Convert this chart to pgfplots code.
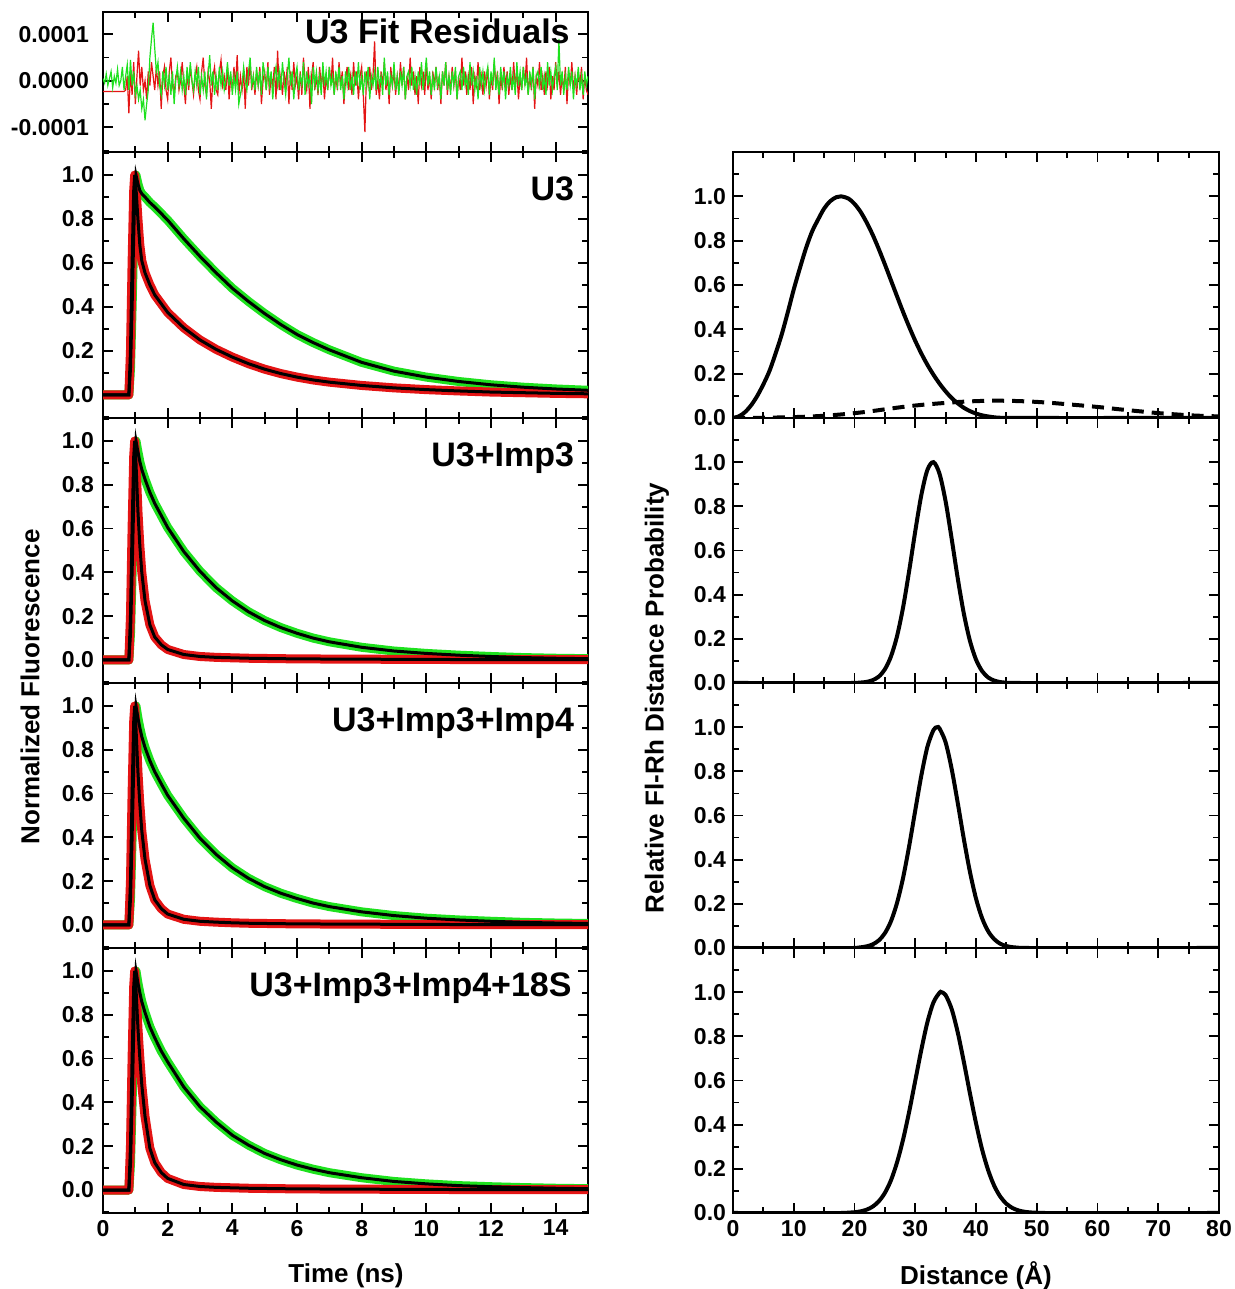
\documentclass[border=0pt]{standalone}
\usepackage{fontspec}
\setmainfont{Liberation Sans}
\usepackage{pgfplots}
\pgfplotsset{compat=1.18}
\usepackage{pgfplotstable}

\definecolor{dgreen}{RGB}{30,225,30}
\definecolor{dred}{RGB}{228,20,20}

% residuals, in units of 1e-5
\pgfplotstableread{
t r g
0.00 -2.3 0.5
0.05 -2.3 -0.5
0.10 -2.3 1.5
0.15 -2.3 -1
0.20 -2.3 0.5
0.25 -2.3 2
0.30 -2.3 -1.5
0.35 -2.3 1
0.40 -2.3 -0.5
0.45 -2.3 2.5
0.50 -2.3 -1
0.55 -2.3 0
0.60 -2.3 3
0.65 -2.3 -2
0.70 -2.0 1
0.75 1 3.5
0.80 -7 -2
0.85 2 4.5
0.90 -3 -1
0.95 4 2
1.00 -5 -3
1.05 1 -1
1.10 6.5 -4
1.15 -1 -2
1.20 3 -6
1.25 -2 -4
1.30 0 -8.5
1.35 -4 -5
1.40 2 -2
1.45 -1 5
1.50 4 9
1.55 1 12.5
1.60 -2 7
1.65 3 2
1.70 -1 4
1.75 2 -1
1.80 -6 -3
1.85 1 2
1.90 3 -1
1.95 -2 3
2.00 -4 -2
2.05 2 1
2.10 5 -3
2.15 -1 2
2.20 -3 -5
2.25 1 0
2.30 2 3
2.35 -2 -1
2.40 0 2
2.45 4 -2
2.50 -1 1
2.55 -5 -3
2.60 2 3
2.65 -2 -1
2.70 3 4
2.75 0 0
2.80 -3 -2
2.85 1 2
2.90 3 -1
2.95 -2 3
3.00 -4 -3
3.05 2 1
3.10 5 -2
3.15 -1 2
3.20 -3 -4
3.25 2 1
3.30 0 5.5
3.35 -6 -1
3.40 1 2
3.45 3 -3
3.50 -2 1
3.55 -3 -2
3.60 2 3
3.65 4.5 -1
3.70 -1 2
3.75 1 -2
3.80 -2 0
3.85 3 4
3.90 -4 -1
3.95 1 2
4.00 -2 -3
4.05 3 1
4.10 -1 -2
4.15 5.5 2
4.20 -3 -5
4.25 1 -3
4.30 -2 -1
4.35 2 3
4.40 -6 0
4.45 3 -2
4.50 -1 2
4.55 4 5
4.60 -2 -1
4.65 1 1
4.70 -3 -2
4.75 2 3
4.80 -1 -1
4.85 3 2
4.90 -5 -3
4.95 0 4
5.00 2 1
5.05 -2 -2
5.10 4 3
5.15 -3 -1
5.20 1 2
5.25 -1 -4
5.30 3 1
5.35 -4 3
5.40 6.5 -1
5.45 -2 2
5.50 1 -2
5.55 -3 4
5.60 2 0
5.65 -1 -3
5.70 3 1
5.75 -5 5
5.80 2 -1
5.85 -2 2
5.90 4 -4
5.95 -1 1
6.00 1 3
6.05 -4 -2
6.10 2 1
6.15 -3 -1
6.20 5 4
6.25 0 -3
6.30 -2 2
6.35 3 -1
6.40 -6 1
6.45 1 -5
6.50 4 3
6.55 -2 -1
6.60 1 2
6.65 -3 -2
6.70 3 1
6.75 -1 -3
6.80 2 4
6.85 -4 -1
6.90 1 2
6.95 -2 -2
7.00 3 3
7.05 -1 -1
7.10 5 1
7.15 -3 -3
7.20 1 2
7.25 -2 -1
7.30 4 3
7.35 -1 -2
7.40 2 1
7.45 -5 -4
7.50 0 2
7.55 3 -1
7.60 -2 3
7.65 1 -2
7.70 -3 1
7.75 4 -3
7.80 -1 2
7.85 2 -1
7.90 -4 4
7.95 1 -2
8.00 3 1
8.05 -3 -3
8.10 -11 2
8.15 2 -1
8.20 -1 3
8.25 3 -4
8.30 -2 1
8.35 1 -1
8.40 8.5 2
8.45 -3 -2
8.50 0 3
8.55 -4 -1
8.60 2 1
8.65 -1 -3
8.70 4 5
8.75 -2 -1
8.80 1 2
8.85 -5 -3
8.90 3 1
8.95 -1 -1
9.00 2 4
9.05 -3 -2
9.10 1 1
9.15 -2 -3
9.20 4 2
9.25 -1 -1
9.30 3 3
9.35 -4 -4
9.40 1 1
9.45 -2 2
9.50 5 -1
9.55 -1 3
9.60 2 -2
9.65 -3 1
9.70 1 -3
9.75 -5 2
9.80 3 -1
9.85 -1 4
9.90 2 -2
9.95 -3 1
10.00 4 5
10.05 -2 -1
10.10 1 2
10.15 -4 -3
10.20 2 1
10.25 -1 -2
10.30 3 3
10.35 -2 -1
10.40 1 1
10.45 -5 -4
10.50 2 2
10.55 -1 -1
10.60 4 4
10.65 -3 -2
10.70 1 1
10.75 -2 -3
10.80 3 2
10.85 -1 -1
10.90 2 3
10.95 -4 -4
11.00 1 1
11.05 -2 2
11.10 5 -2
11.15 -1 3
11.20 2 -1
11.25 -3 1
11.30 1 -3
11.35 -2 4
11.40 3 -1
11.45 -5 2
11.50 1 -2
11.55 -1 1
11.60 4 -4
11.65 -2 3
11.70 1 -1
11.75 -3 2
11.80 2 -2
11.85 -1 1
11.90 3 3
11.95 -4 -3
12.00 1 2
12.05 -2 -1
12.10 4 5
12.15 -1 -2
12.20 2 1
12.25 -5 -3
12.30 1 3
12.35 -2 -1
12.40 3 2
12.45 -1 -4
12.50 2 1
12.55 -3 -1
12.60 1 3
12.65 -2 -2
12.70 4 1
12.75 -1 -3
12.80 2 4
12.85 -4 -1
12.90 1 2
12.95 -2 -2
13.00 3 3
13.05 -1 -1
13.10 5 1
13.15 -3 -3
13.20 1 2
13.25 -2 -1
13.30 3 3
13.35 -6 -4
13.40 1 1
13.45 -1 2
13.50 4 -1
13.55 -2 3
13.60 1 -2
13.65 -3 1
13.70 2 -3
13.75 -1 4
13.80 3 -1
13.85 -4 2
13.90 1 -2
13.95 -2 1
14.00 4 3
14.05 -1 -2
14.10 2 9
14.15 -3 -1
14.20 1 2
14.25 -2 -3
14.30 3 1
14.35 -5 -2
14.40 2 3
14.45 -1 -1
14.50 4 2
14.55 -2 -4
14.60 1 1
14.65 -3 -1
14.70 2 3
14.75 -1 -2
14.80 3 1
14.85 -4 -3
14.90 1 2
14.95 -2 -1
15.00 -3 1
}\res

% decays: t, green (donor only), red (donor + acceptor)
\pgfplotstableread{
t g r
0 0 0
0.8 0 0
0.85 0.12 0.2
0.9 0.4 0.6
0.95 0.72 0.93
0.98 0.9 1.0
1.02 1.0 0.94
1.08 0.96 0.8
1.14 0.93 0.68
1.2 0.915 0.61
1.3 0.9 0.555
1.45 0.875 0.5
1.6 0.855 0.455
1.8 0.825 0.415
2.0 0.795 0.375
2.5 0.71 0.305
3.0 0.63 0.25
3.5 0.555 0.207
4.0 0.485 0.172
4.5 0.425 0.142
5.0 0.37 0.117
5.5 0.32 0.097
6.0 0.275 0.081
6.5 0.238 0.068
7.0 0.205 0.058
8.0 0.148 0.043
9.0 0.108 0.032
10 0.081 0.024
11 0.061 0.018
12 0.046 0.013
13 0.035 0.01
14 0.027 0.007
15 0.021 0.005
}\decA

\pgfplotstableread{
t g r
0 0 0
0.8 0 0
0.85 0.12 0.2
0.9 0.4 0.6
0.95 0.72 0.93
0.98 0.9 1.0
1.02 1.0 0.9
1.08 0.95 0.68
1.14 0.905 0.52
1.2 0.87 0.4
1.3 0.825 0.27
1.45 0.765 0.16
1.6 0.715 0.105
1.8 0.66 0.07
2.0 0.605 0.048
2.5 0.495 0.025
3.0 0.405 0.016
3.5 0.33 0.012
4.0 0.27 0.01
4.5 0.22 0.008
5.0 0.18 0.007
5.5 0.148 0.006
6.0 0.122 0.005
6.5 0.1 0.005
7.0 0.083 0.004
8.0 0.058 0.004
9.0 0.041 0.003
10 0.03 0.003
11 0.022 0.002
12 0.016 0.002
13 0.011 0.002
14 0.008 0.002
15 0.006 0.002
}\decB

\pgfplotstableread{
t g r
0 0 0
0.8 0 0
0.85 0.12 0.2
0.9 0.4 0.6
0.95 0.72 0.93
0.98 0.9 1.0
1.02 1.0 0.9
1.08 0.945 0.7
1.14 0.9 0.55
1.2 0.86 0.43
1.3 0.81 0.3
1.45 0.75 0.18
1.6 0.7 0.115
1.8 0.645 0.075
2.0 0.592 0.05
2.5 0.487 0.026
3.0 0.396 0.017
3.5 0.322 0.013
4.0 0.261 0.01
4.5 0.213 0.008
5.0 0.175 0.007
5.5 0.145 0.006
6.0 0.121 0.005
6.5 0.1 0.005
7.0 0.084 0.004
8.0 0.06 0.004
9.0 0.043 0.003
10 0.031 0.003
11 0.023 0.002
12 0.017 0.002
13 0.012 0.002
14 0.009 0.002
15 0.007 0.002
}\decC

\pgfplotstableread{
t g r
0 0 0
0.8 0 0
0.85 0.12 0.2
0.9 0.4 0.6
0.95 0.72 0.93
0.98 0.9 1.0
1.02 1.0 0.92
1.08 0.945 0.74
1.14 0.9 0.6
1.2 0.86 0.48
1.3 0.81 0.335
1.45 0.745 0.19
1.6 0.695 0.125
1.8 0.635 0.08
2.0 0.585 0.053
2.5 0.47 0.025
3.0 0.38 0.016
3.5 0.31 0.012
4.0 0.25 0.01
4.5 0.205 0.008
5.0 0.167 0.007
5.5 0.138 0.006
6.0 0.114 0.005
6.5 0.095 0.005
7.0 0.079 0.004
8.0 0.056 0.004
9.0 0.039 0.003
10 0.028 0.003
11 0.02 0.002
12 0.015 0.002
13 0.011 0.002
14 0.008 0.002
15 0.006 0.002
}\decD

% distance distributions
\pgfplotstableread{
d p
0 0
1 0.008
2 0.027
3 0.058
4 0.1
5 0.152
6 0.212
7 0.29
8 0.375
9 0.475
10 0.58
11 0.675
12 0.765
13 0.84
14 0.895
15 0.945
16 0.978
17 0.996
17.8 1.0
19 0.99
20 0.966
21 0.93
22 0.882
23 0.826
24 0.762
25 0.693
26 0.621
27 0.549
28 0.478
29 0.411
30 0.348
31 0.291
32 0.24
33 0.195
34 0.155
35 0.12
36 0.09
37 0.066
38 0.046
39 0.031
40 0.02
41 0.012
42 0.007
43 0.003
44 0.001
46 0
80 0
}\distA

\pgfplotstableread{
d p
0 0
5 0.001
10 0.004
13 0.007
16 0.012
19 0.019
22 0.028
25 0.039
28 0.05
31 0.059
34 0.066
37 0.072
40 0.076
43 0.078
46 0.077
49 0.074
52 0.069
55 0.062
58 0.055
61 0.047
64 0.038
67 0.03
70 0.022
73 0.016
76 0.011
80 0.007
}\distAb

\pgfplotstableread{
d p
0 0
20 0
21 0.002
22 0.005
23 0.013
24 0.029
25 0.062
26 0.12
27 0.212
28 0.343
29 0.508
30 0.687
31 0.851
32 0.965
33 1.0
34 0.947
35 0.822
36 0.652
37 0.473
38 0.314
39 0.191
40 0.106
41 0.054
42 0.025
43 0.011
44 0.004
45 0.0015
46 0
80 0
}\distB

\pgfplotstableread{
d p
0 0
20 0
21 0.003
22 0.0074
23 0.0165
24 0.0345
25 0.067
26 0.121
27 0.204
28 0.318
29 0.462
30 0.623
31 0.781
32 0.911
33 0.987
33.6 1.0
34 0.994
35 0.931
36 0.81
37 0.656
38 0.493
39 0.345
40 0.224
41 0.135
42 0.076
43 0.04
44 0.019
45 0.0087
46 0.0036
47 0.0014
48 0
80 0
}\distC

\pgfplotstableread{
d p
0 0
18 0
19 0.0015
20 0.0035
21 0.0074
22 0.0151
23 0.029
24 0.053
25 0.091
26 0.148
27 0.229
28 0.333
29 0.459
30 0.599
31 0.739
32 0.864
33 0.954
34 0.9975
34.3 1.0
35 0.9865
36 0.923
37 0.817
38 0.684
39 0.542
40 0.407
41 0.288
42 0.194
43 0.123
44 0.074
45 0.042
46 0.0226
47 0.0115
48 0.0055
49 0.0025
50 0.001
51 0
80 0
}\distD

\tikzset{ttl/.style={anchor=base east, inner sep=0pt, font=\fontsize{17}{19}\selectfont\bfseries}}

\pgfplotsset{
  panel/.style={scale only axis, anchor=south west,
    axis line style={line width=1.1pt},
    every tick/.append style={black, line width=0.9pt},
    major tick length=5pt, minor tick length=3pt,
    tick label style={font=\fontsize{11.5}{13}\selectfont\bfseries},
    /pgf/number format/assume math mode=true},
  tpanel/.style={panel, width=242.5pt, height=132.5pt,
    xmin=0, xmax=15, xtick={0,2,4,6,8,10,12,14}, minor xtick={1,3,5,7,9,11,13,15},
    ymin=-0.105, ymax=1.105, ytick={0,0.2,0.4,0.6,0.8,1.0},
    minor ytick={-0.1,0.1,0.3,0.5,0.7,0.9,1.1},
    yticklabel style={xshift=-1pt, /pgf/number format/.cd, fixed, fixed zerofill, precision=1}},
  dpanel/.style={panel, width=243pt, height=132.5pt,
    xmin=0, xmax=80, xtick={0,10,...,80}, minor xtick={5,15,...,75},
    ymin=0, ymax=1.2, ytick={0,0.2,0.4,0.6,0.8,1.0},
    minor ytick={0.1,0.3,0.5,0.7,0.9,1.1},
    yticklabel style={/pgf/number format/.cd, fixed, fixed zerofill, precision=1}},
  band/.style={line width=4.5pt, line join=round},
  fit/.style={black, line width=1.5pt},
  dist/.style={black, line width=2pt, smooth},
}

\newcommand{\decay}[1]{%
  \addplot[band, dgreen] table[x=t,y=g]{#1};
  \addplot[band, dred] table[x=t,y=r]{#1};
  \addplot[fit] table[x=t,y=g]{#1};
  \addplot[fit] table[x=t,y=r]{#1};
}

\begin{document}
\begin{tikzpicture}
\path[use as bounding box] (0,0) rectangle (617.5pt,644.5pt);

% residuals
\begin{axis}[panel, at={(51.5pt,568.5pt)}, width=242.5pt, height=70pt,
  xmin=0, xmax=15, xtick={0,2,4,6,8,10,12,14}, minor xtick={1,3,5,7,9,11,13,15},
  xticklabels={},
  ymin=-15.3, ymax=14.8, ytick={-10,0,10}, minor ytick={-15,-5,5},
  yticklabels={-0.0001,0.0000,0.0001}, yticklabel style={xshift=-3.5pt}]
\addplot[dred, line width=0.6pt] table[x=t,y=r]{\res};
\addplot[dgreen, line width=0.6pt] table[x=t,y=g]{\res};
\node[ttl] at (rel axis cs:0.963,0.776) {U3 Fit Residuals};
\end{axis}

\begin{axis}[tpanel, at={(51.5pt,435.5pt)}, height=133pt, xticklabels={}]
\decay{\decA}
\node[ttl] at (rel axis cs:0.972,0.817) {U3};
\end{axis}

\begin{axis}[tpanel, at={(51.5pt,303pt)}, xticklabels={}]
\decay{\decB}
\node[ttl] at (rel axis cs:0.972,0.817) {U3+Imp3};
\end{axis}

\begin{axis}[tpanel, at={(51.5pt,170.5pt)}, xticklabels={}]
\decay{\decC}
\node[ttl] at (rel axis cs:0.972,0.817) {U3+Imp3+Imp4};
\end{axis}

\begin{axis}[tpanel, at={(51.5pt,38pt)}]
\decay{\decD}
\node[ttl] at (rel axis cs:0.967,0.817) {U3+Imp3+Imp4+18S};
\end{axis}

% distance distributions
\begin{axis}[dpanel, at={(366.5pt,435.5pt)}, height=133pt, xticklabels={}]
\addplot[dist] table[x=d,y=p]{\distA};
\addplot[black, line width=2pt, smooth, dash pattern=on 6pt off 4pt] table[x=d,y=p]{\distAb};
\end{axis}

\begin{axis}[dpanel, at={(366.5pt,303pt)}, xticklabels={}]
\addplot[dist] table[x=d,y=p]{\distB};
\end{axis}

\begin{axis}[dpanel, at={(366.5pt,170.5pt)}, xticklabels={}]
\addplot[dist] table[x=d,y=p]{\distC};
\end{axis}

\begin{axis}[dpanel, at={(366.5pt,38pt)}]
\addplot[dist] table[x=d,y=p]{\distD};
\end{axis}

\node[rotate=90, font=\fontsize{13}{15}\selectfont\bfseries] at (15pt,301pt) {Normalized Fluorescence};
\node[rotate=90, font=\fontsize{13}{15}\selectfont\bfseries] at (328.5pt,295.5pt) {Relative Fl-Rh Distance Probability};
\node[font=\fontsize{13}{15}\selectfont\bfseries] at (173pt,6.5pt) {Time (ns)};
\node[font=\fontsize{13}{15}\selectfont\bfseries] at (488pt,6.5pt) {Distance (Å)};
\end{tikzpicture}
\end{document}
